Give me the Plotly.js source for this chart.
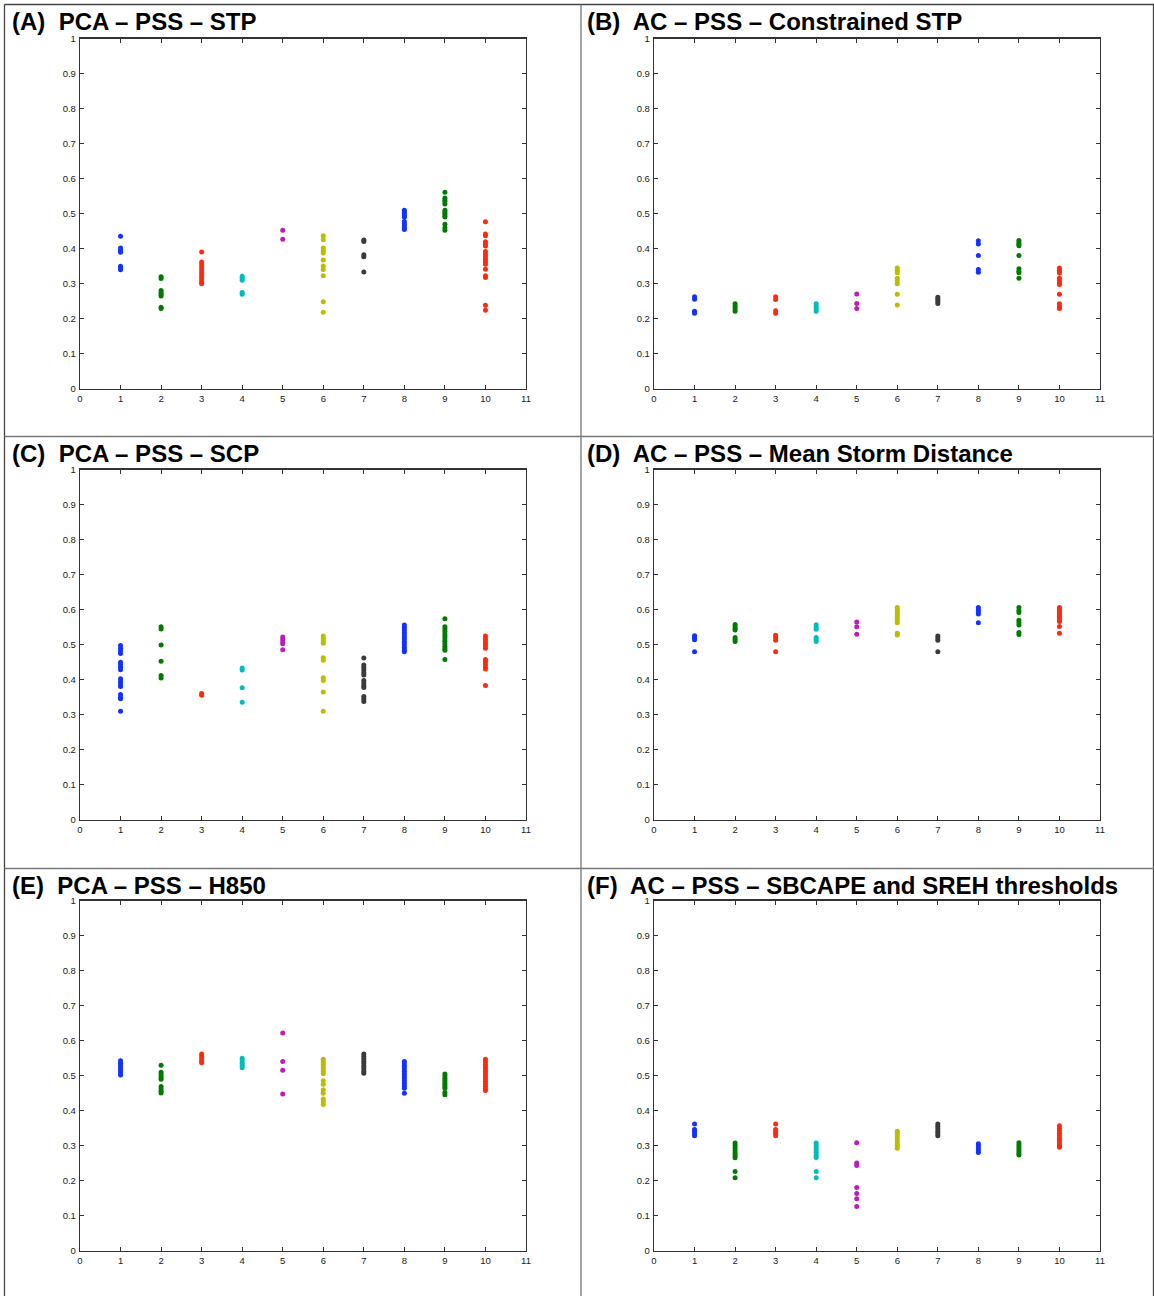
<!DOCTYPE html>
<html>
<head>
<meta charset="utf-8">
<script src="https://cdn.plot.ly/plotly-3.0.1.min.js"></script>
<style>
  html, body { margin: 0; padding: 0; background: #fff; }
  #chart { width: 1154px; height: 1296px; }
</style>
</head>
<body>
<div id="chart"></div>
<script>
// Ensemble member numbers on the x axis
const members = [1, 2, 3, 4, 5, 6, 7, 8, 9, 10];

// Panel titles
const panelTitles = [
  '(A)\u00a0 PCA \u2013 PSS \u2013 STP',
  '(B)\u00a0 AC \u2013 PSS \u2013 Constrained STP',
  '(C)\u00a0 PCA \u2013 PSS \u2013 SCP',
  '(D)\u00a0 AC \u2013 PSS \u2013 Mean Storm Distance',
  '(E)\u00a0 PCA \u2013 PSS \u2013 H850',
  '(F)\u00a0 AC \u2013 PSS \u2013 SBCAPE and SREH thresholds'
];

// PSS values for each member (one list per member)
const pssPcaStp = [
  [0.436, 0.402, 0.395, 0.390, 0.350, 0.345, 0.340],
  [0.320, 0.315, 0.281, 0.275, 0.270, 0.265, 0.233, 0.230],
  [0.391, 0.362, 0.355, 0.348, 0.340, 0.333, 0.325, 0.318, 0.311, 0.304, 0.300],
  [0.322, 0.316, 0.310, 0.275, 0.270],
  [0.453, 0.427],
  [0.437, 0.426, 0.402, 0.395, 0.388, 0.368, 0.351, 0.341, 0.323, 0.249, 0.219],
  [0.425, 0.421, 0.383, 0.377, 0.334],
  [0.510, 0.505, 0.500, 0.495, 0.490, 0.478, 0.472, 0.466, 0.460, 0.455],
  [0.561, 0.545, 0.540, 0.535, 0.528, 0.510, 0.505, 0.500, 0.495, 0.491, 0.470, 0.460, 0.453],
  [0.477, 0.442, 0.437, 0.420, 0.413, 0.408, 0.392, 0.385, 0.377, 0.370, 0.363, 0.356, 0.342, 0.323, 0.318, 0.239, 0.225]
];

const pssAcConstrainedStp = [
  [0.263, 0.256, 0.222, 0.216],
  [0.243, 0.236, 0.229, 0.222],
  [0.263, 0.255, 0.223, 0.216],
  [0.243, 0.236, 0.229, 0.222],
  [0.271, 0.244, 0.230],
  [0.345, 0.338, 0.332, 0.316, 0.308, 0.300, 0.270, 0.240],
  [0.262, 0.256, 0.250, 0.244],
  [0.423, 0.414, 0.381, 0.341, 0.333],
  [0.424, 0.418, 0.413, 0.409, 0.381, 0.343, 0.336, 0.332, 0.316],
  [0.345, 0.338, 0.331, 0.316, 0.309, 0.302, 0.298, 0.270, 0.243, 0.236, 0.230]
];

const pssPcaScp = [
  [0.498, 0.490, 0.482, 0.475, 0.450, 0.443, 0.436, 0.429, 0.403, 0.395, 0.388, 0.381, 0.358, 0.350, 0.346, 0.310],
  [0.551, 0.545, 0.499, 0.453, 0.412, 0.405],
  [0.361, 0.356],
  [0.434, 0.428, 0.377, 0.336],
  [0.522, 0.515, 0.508, 0.503, 0.486],
  [0.525, 0.518, 0.511, 0.504, 0.463, 0.456, 0.406, 0.398, 0.365, 0.310],
  [0.462, 0.442, 0.435, 0.428, 0.420, 0.414, 0.398, 0.391, 0.384, 0.378, 0.352, 0.345, 0.338],
  [0.556, 0.549, 0.542, 0.535, 0.528, 0.521, 0.514, 0.507, 0.500, 0.493, 0.486, 0.480],
  [0.574, 0.551, 0.545, 0.538, 0.531, 0.524, 0.517, 0.510, 0.503, 0.496, 0.489, 0.484, 0.458],
  [0.525, 0.518, 0.511, 0.504, 0.497, 0.490, 0.458, 0.452, 0.445, 0.437, 0.431, 0.384]
];

const pssAcStormDistance = [
  [0.526, 0.520, 0.514, 0.480],
  [0.558, 0.552, 0.546, 0.542, 0.521, 0.515, 0.509],
  [0.527, 0.520, 0.513, 0.480],
  [0.557, 0.550, 0.544, 0.521, 0.515, 0.509],
  [0.565, 0.551, 0.530],
  [0.606, 0.600, 0.594, 0.588, 0.582, 0.576, 0.570, 0.563, 0.533, 0.528],
  [0.525, 0.519, 0.513, 0.480],
  [0.606, 0.600, 0.594, 0.588, 0.563],
  [0.606, 0.598, 0.592, 0.570, 0.563, 0.556, 0.535, 0.529],
  [0.606, 0.601, 0.596, 0.591, 0.586, 0.581, 0.576, 0.571, 0.566, 0.552, 0.533]
];

const pssPcaH850 = [
  [0.543, 0.536, 0.529, 0.522, 0.515, 0.508, 0.502],
  [0.530, 0.510, 0.503, 0.496, 0.490, 0.469, 0.462, 0.456, 0.451],
  [0.562, 0.555, 0.548, 0.541, 0.537],
  [0.550, 0.543, 0.536, 0.529, 0.523],
  [0.622, 0.541, 0.516, 0.448],
  [0.547, 0.540, 0.533, 0.526, 0.519, 0.512, 0.506, 0.486, 0.476, 0.460, 0.450, 0.434, 0.426, 0.418],
  [0.562, 0.555, 0.548, 0.541, 0.534, 0.527, 0.520, 0.513, 0.507],
  [0.541, 0.534, 0.527, 0.520, 0.513, 0.506, 0.499, 0.492, 0.485, 0.478, 0.471, 0.464, 0.450],
  [0.505, 0.499, 0.493, 0.487, 0.481, 0.475, 0.469, 0.464, 0.452, 0.446],
  [0.547, 0.540, 0.533, 0.526, 0.519, 0.512, 0.505, 0.498, 0.491, 0.484, 0.477, 0.470, 0.463, 0.458]
];

const pssAcCapeSreh = [
  [0.362, 0.347, 0.341, 0.335, 0.329],
  [0.308, 0.301, 0.294, 0.286, 0.279, 0.272, 0.266, 0.227, 0.209],
  [0.362, 0.347, 0.341, 0.335, 0.329],
  [0.308, 0.301, 0.294, 0.287, 0.280, 0.273, 0.267, 0.227, 0.209],
  [0.309, 0.251, 0.244, 0.181, 0.164, 0.149, 0.127],
  [0.342, 0.335, 0.328, 0.321, 0.314, 0.307, 0.300, 0.293],
  [0.362, 0.356, 0.349, 0.342, 0.335, 0.329],
  [0.306, 0.300, 0.294, 0.288, 0.281],
  [0.309, 0.303, 0.297, 0.291, 0.285, 0.279, 0.274],
  [0.357, 0.350, 0.343, 0.336, 0.329, 0.322, 0.315, 0.308, 0.301, 0.296]
];

const panels = [pssPcaStp, pssAcConstrainedStp, pssPcaScp, pssAcStormDistance, pssPcaH850, pssAcCapeSreh];

// Colour of each member's dots (cycles b, g, r, c, m, y, k)
const memberColors = ['#1432ff', '#007a00', '#ff2a10', '#00bcbc', '#bc1cbc', '#bcbc00', '#3a3a3a', '#1432ff', '#007a00', '#ff2a10'];

// Page geometry in pixels
const W = 1154, H = 1296;
const colLeft = [80, 654];
const plotW = 446;
const rowTop = [38.5, 469.5, 900.5];
const plotH = 350.5;
const px = v => v / W;
const py = v => 1 - v / H;

const data = [];
const layout = {
  width: W, height: H,
  margin: {l: 0, r: 0, t: 0, b: 0},
  paper_bgcolor: '#fff', plot_bgcolor: '#fff',
  showlegend: false,
  font: {family: 'Liberation Sans, Arial, sans-serif', color: '#222'},
  annotations: [],
  shapes: []
};

panels.forEach((panel, i) => {
  const col = i % 2, row = Math.floor(i / 2);
  const n = i + 1;
  const xs = [], ys = [], cs = [];
  panel.forEach((vals, m) => {
    vals.forEach(v => { xs.push(members[m]); ys.push(v); cs.push(memberColors[m]); });
  });
  data.push({
    type: 'scatter', mode: 'markers',
    x: xs, y: ys,
    xaxis: 'x' + (n === 1 ? '' : n), yaxis: 'y' + (n === 1 ? '' : n),
    marker: {size: 5, color: cs, line: {width: 0}},
    hoverinfo: 'x+y'
  });
  const axCommon = {
    showgrid: false, zeroline: false,
    showline: true, linecolor: '#333', linewidth: 1.2,
    mirror: 'ticks', ticks: 'inside', ticklen: 4, tickwidth: 1, tickcolor: '#333',
    tickfont: {size: 9.5, family: 'Liberation Sans, Arial, sans-serif', color: '#1a1a1a'},
    fixedrange: true
  };
  layout['xaxis' + (n === 1 ? '' : n)] = Object.assign({}, axCommon, {
    domain: [px(colLeft[col]), px(colLeft[col] + plotW)],
    range: [0, 11], tickmode: 'linear', tick0: 0, dtick: 1,
    anchor: 'y' + (n === 1 ? '' : n), ticklabelstandoff: 0
  });
  layout['yaxis' + (n === 1 ? '' : n)] = Object.assign({}, axCommon, {
    domain: [py(rowTop[row] + plotH), py(rowTop[row])],
    range: [0, 1], tickmode: 'linear', tick0: 0, dtick: 0.1,
    anchor: 'x' + (n === 1 ? '' : n), ticklabelstandoff: 1
  });
  layout.annotations.push({
    xref: 'paper', yref: 'paper',
    x: px(col === 0 ? 10 : 585), y: py(row * 432 + 21.5),
    xanchor: 'left', yanchor: 'middle',
    text: '<b>' + panelTitles[i] + '</b>',
    showarrow: false,
    font: {size: 24, family: 'Liberation Sans, Arial, sans-serif', color: '#000'}
  });
});

// Frame and dividers between the panels
const frame = (x0, y0, x1, y1, c) => ({
  type: 'line', xref: 'paper', yref: 'paper',
  x0: px(x0), y0: py(y0), x1: px(x1), y1: py(y1),
  line: {color: c, width: 1.3}
});
layout.shapes.push(frame(4.5, 4.5, 1154, 4.5, '#444'));
layout.shapes.push(frame(4.5, 4.5, 4.5, 1296, '#444'));
layout.shapes.push(frame(1153.5, 4.5, 1153.5, 1296, '#444'));
layout.shapes.push(frame(581, 4.5, 581, 1296, '#777'));
layout.shapes.push(frame(4.5, 436.5, 1154, 436.5, '#777'));
layout.shapes.push(frame(4.5, 868.5, 1154, 868.5, '#777'));

Plotly.newPlot('chart', data, layout, {displayModeBar: false, staticPlot: true});
</script>
</body>
</html>
